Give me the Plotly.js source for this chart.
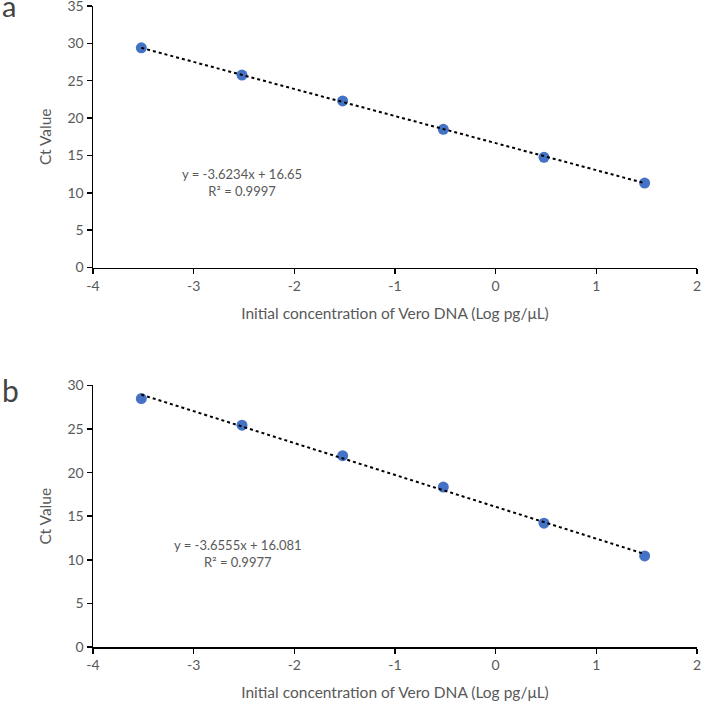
<!DOCTYPE html>
<html>
<head>
<meta charset="utf-8">
<script src="https://cdn.plot.ly/plotly-3.0.1.min.js"></script>
<style>html,body{margin:0;padding:0;background:#fff;}#chart{width:702px;height:702px;}</style>
</head>
<body>
<div id="chart"></div>
<script>
// Data
var concA = [-3.52, -2.52, -1.52, -0.52, 0.48, 1.48];
var ctA = [29.4, 25.75, 22.3, 18.5, 14.75, 11.3];
var trendAx = [-3.52, 1.48];
var trendAy = [29.40, 11.29];
var eqA = "y = -3.6234x + 16.65<br>R² = 0.9997";

var concB = [-3.52, -2.52, -1.52, -0.52, 0.48, 1.48];
var ctB = [28.5, 25.45, 21.95, 18.35, 14.2, 10.45];
var trendBx = [-3.52, 1.48];
var trendBy = [28.95, 10.67];
var eqB = "y = -3.6555x + 16.081<br>R² = 0.9977";

var xTickVals = [-4, -3, -2, -1, 0, 1, 2];
var xTickText = ["-4", "-3", "-2", "-1", "0", "1", "2"];
var yTickValsA = [0, 5, 10, 15, 20, 25, 30, 35];
var yTickValsB = [0, 5, 10, 15, 20, 25, 30];

var xTitle = "Initial concentration of Vero DNA (Log pg/μL)";
var yTitle = "Ct Value";
var panelLabels = ["a", "b"];

var FONT = "Lato, 'Open Sans', sans-serif";
var GRAY = "#595959";
var BLUE = "#4472C4";

var traces = [
  {x: concA, y: ctA, type: "scatter", mode: "markers", xaxis: "x", yaxis: "y",
   marker: {color: BLUE, size: 11}, hoverinfo: "none"},
  {x: trendAx, y: trendAy, type: "scatter", mode: "lines", xaxis: "x", yaxis: "y",
   line: {color: "#000", width: 2, dash: "dot"}, hoverinfo: "none"},
  {x: concB, y: ctB, type: "scatter", mode: "markers", xaxis: "x2", yaxis: "y2",
   marker: {color: BLUE, size: 11}, hoverinfo: "none"},
  {x: trendBx, y: trendBy, type: "scatter", mode: "lines", xaxis: "x2", yaxis: "y2",
   line: {color: "#000", width: 2, dash: "dot"}, hoverinfo: "none"}
];

function xax(anchor) {
  return {
    anchor: anchor, domain: [0, 1], range: [-4, 2],
    tickmode: "array", tickvals: xTickVals, ticktext: xTickText,
    showgrid: false, zeroline: false, showline: true, linecolor: "#000", linewidth: 1.5,
    ticks: "outside", ticklen: 5, tickcolor: "#000", tickwidth: 1.5,
    tickfont: {family: FONT, size: 14, color: GRAY}, ticklabeloverflow: "allow",
    title: {text: xTitle, font: {family: FONT, size: 15.5, color: GRAY}, standoff: 15},
    automargin: false, fixedrange: true
  };
}
function yax(anchor, domain, maxv, vals) {
  return {
    anchor: anchor, domain: domain, range: [0, maxv],
    tickmode: "array", tickvals: vals, ticktext: vals.map(String),
    showgrid: false, zeroline: false, showline: true, linecolor: "#000", linewidth: 1.5,
    ticks: "outside", ticklen: 5, tickcolor: "#000", tickwidth: 1.5,
    tickfont: {family: FONT, size: 14, color: GRAY}, ticklabeloverflow: "allow",
    title: {text: yTitle, font: {family: FONT, size: 15.5, color: GRAY}, standoff: 12},
    automargin: false, fixedrange: true
  };
}

var layout = {
  width: 702, height: 702,
  margin: {l: 93, r: 5, t: 6, b: 55},
  paper_bgcolor: "#fff", plot_bgcolor: "#fff",
  showlegend: false,
  xaxis: xax("y"),
  yaxis: yax("x", [0.592, 1], 35, yTickValsA),
  xaxis2: xax("y2"),
  yaxis2: yax("x2", [0, 0.408], 30, yTickValsB),
  annotations: [
    {text: eqA, xref: "x", yref: "y", x: -2.52, y: 11.35, showarrow: false,
     align: "center", font: {family: FONT, size: 13, color: GRAY}},
    {text: eqB, xref: "x2", yref: "y2", x: -2.557, y: 10.72, showarrow: false,
     align: "center", font: {family: FONT, size: 13, color: GRAY}},
    {text: panelLabels[0], xref: "paper", yref: "paper", x: -0.154, y: 1.0002,
     xanchor: "left", yanchor: "middle", showarrow: false,
     font: {family: FONT, size: 29, color: "#444"}},
    {text: panelLabels[1], xref: "paper", yref: "paper", x: -0.154, y: 0.4006,
     xanchor: "left", yanchor: "middle", showarrow: false,
     font: {family: FONT, size: 30, color: "#444"}}
  ]
};

Plotly.newPlot("chart", traces, layout, {displayModeBar: false, staticPlot: true});
</script>
</body>
</html>
